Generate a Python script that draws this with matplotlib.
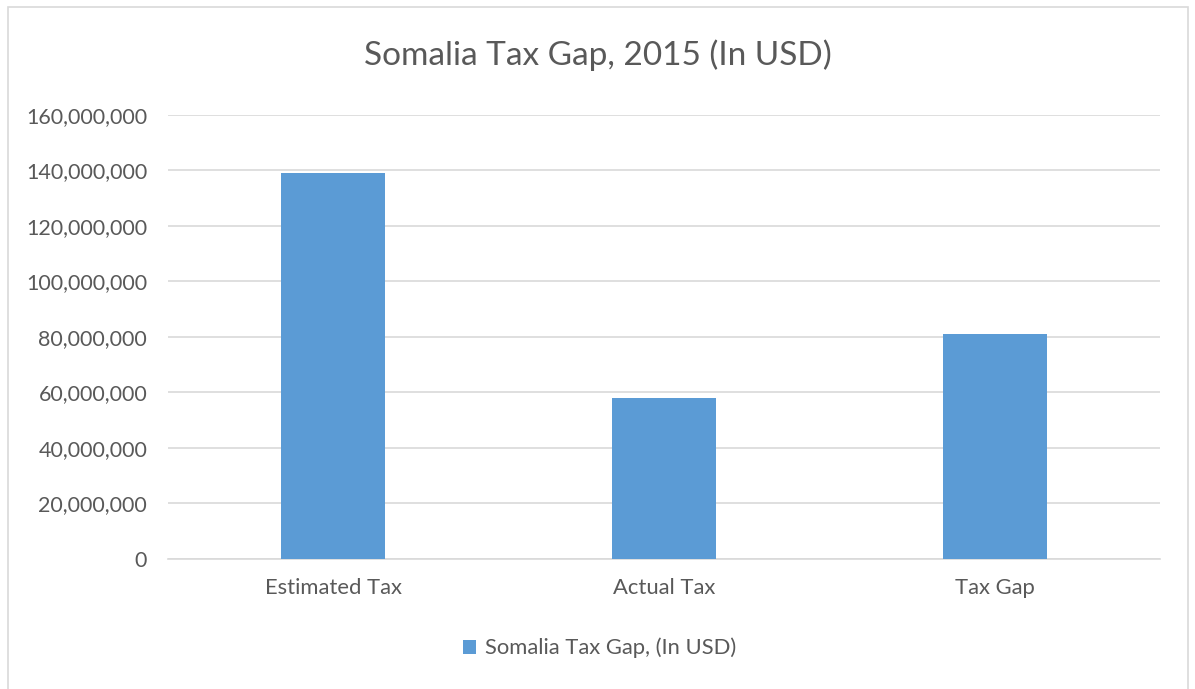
import matplotlib.pyplot as plt
from matplotlib.patches import Rectangle
from matplotlib.ticker import FuncFormatter

categories = ["Estimated Tax", "Actual Tax", "Tax Gap"]
values = [139.1e6, 57.9e6, 81.2e6]
series_name = "Somalia Tax Gap, (In USD)"
title = "Somalia Tax Gap, 2015 (In USD)"

grey = "#595959"
blue = "#5b9bd5"

plt.rcParams['font.family'] = ['Lato', 'DejaVu Sans']

fig = plt.figure(figsize=(11.95, 6.89), dpi=100)
ax = fig.add_axes([168 / 1195, 130 / 689, 992 / 1195, 444.3 / 689])

x = range(len(categories))
ax.bar(x, values, width=0.315, color=blue, label=series_name, zorder=3)

ax.set_xlim(-0.5, len(categories) - 0.5)
ax.set_ylim(0, 160e6)
ax.set_yticks(range(0, 160000001, 20000000))
ax.yaxis.set_major_formatter(FuncFormatter(lambda v, p: f"{int(v):,}"))
ax.set_xticks(list(x))
ax.set_xticklabels(categories)

ax.grid(axis='y', color="#d9d9d9", linewidth=1.2, zorder=0)
for s in ["top", "right", "left"]:
    ax.spines[s].set_visible(False)
ax.spines["bottom"].set_color("#d9d9d9")
ax.spines["bottom"].set_linewidth(1.2)
ax.tick_params(axis='both', length=0, colors=grey)
ax.tick_params(axis='y', labelsize=15.5, pad=15)
ax.tick_params(axis='x', labelsize=15.8, pad=14)

fig.text(0.5, 1 - 55 / 689, title, ha='center', va='center', fontsize=24, color=grey)

fig.legend(loc='center', bbox_to_anchor=(0.502, 1 - 648 / 689), frameon=False,
           fontsize=15.8, labelcolor=grey, handlelength=0.6, handleheight=0.6,
           handletextpad=0.4)

# chart border
fig.patches.append(Rectangle((8 / 1195, -0.01), 1180 / 1195, 1.0, transform=fig.transFigure,
                             fill=False, edgecolor="#d9d9d9", linewidth=1.2))

fig.savefig("out.png", dpi=100)
